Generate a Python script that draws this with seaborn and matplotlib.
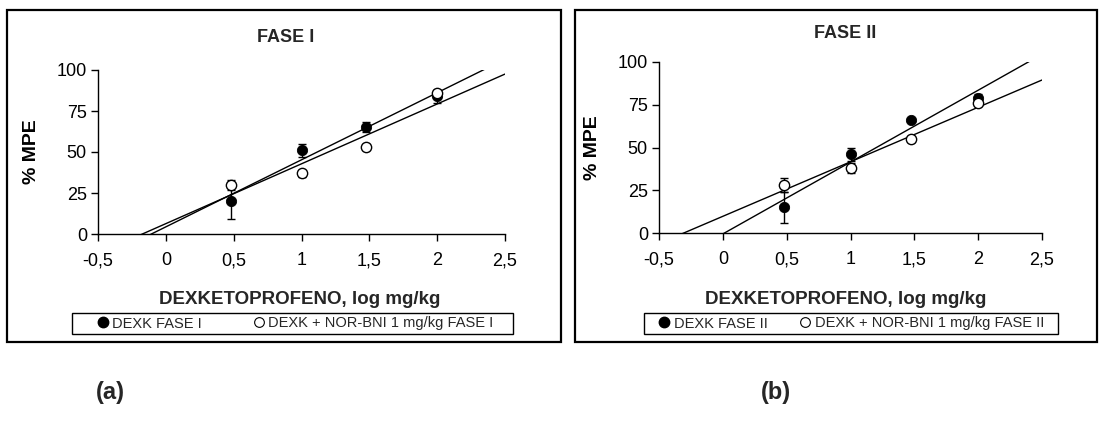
import numpy as np
import pandas as pd
import matplotlib
matplotlib.use("Agg")
import matplotlib.pyplot as plt
from matplotlib.patches import Rectangle
from matplotlib.lines import Line2D
import seaborn as sns

# ---- data ----
doses_log = [np.log10(3), np.log10(10), np.log10(30), np.log10(100)]

fase1_dexk = [20, 51, 65, 84]
fase1_dexk_err = [11, 4, 3, 4]
fase1_nor = [30, 37, 53, 86]
fase1_nor_err = [3, 2, 2, 2]

fase2_dexk = [15, 46, 66, 79]
fase2_dexk_err = [9, 4, 1, 2]
fase2_nor = [28, 38, 55, 76]
fase2_nor_err = [4, 3, 2, 2]

x_ticks = [-0.5, 0, 0.5, 1, 1.5, 2, 2.5]
x_tick_labels = ["-0,5", "0", "0,5", "1", "1,5", "2", "2,5"]
y_ticks = [0, 25, 50, 75, 100]

titles = ["FASE I", "FASE II"]
legend_labels = [["DEXK FASE I", "DEXK + NOR-BNI 1 mg/kg FASE I"],
                 ["DEXK FASE II", "DEXK + NOR-BNI 1 mg/kg FASE II"]]
xlabel = "DEXKETOPROFENO, log mg/kg"
ylabel = "% MPE"
panel_tags = ["(a)", "(b)"]

sns.set_theme(style="white")
plt.rcParams['font.family'] = ['Liberation Sans', 'DejaVu Sans']

fig = plt.figure(figsize=(11, 4.26), dpi=100)

W, H = 1100, 426
def frac(l, t, r, b):
    return [l / W, 1 - b / H, (r - l) / W, (b - t) / H]

ax_pos = [frac(98, 70, 505, 234), frac(659, 62, 1042, 233)]
box_px = [(7, 10, 561, 342), (575, 10, 1097, 342)]
leg_px = [(72, 313, 513, 334), (644, 313, 1058, 334)]
leg_center = [(296, 323.5), (852, 323.5)]
leg_colsp = [3.6, 2.3]
tag_px = [(110, 392), (776, 392)]
title_xy = [(286, 37), (845, 33)]
xlabel_xy = [(300, 299), (846, 299)]

data = [
    (fase1_dexk, fase1_dexk_err, fase1_nor, fase1_nor_err),
    (fase2_dexk, fase2_dexk_err, fase2_nor, fase2_nor_err),
]

for i in range(2):
    # outer panel frame
    l, t, r, b = box_px[i]
    fig.patches.append(Rectangle((l / W, 1 - b / H), (r - l) / W, (b - t) / H,
                                 transform=fig.transFigure, fill=False,
                                 edgecolor="black", linewidth=1.6, zorder=0))
    ax = fig.add_axes(ax_pos[i])
    ax.set_xlim(-0.5, 2.5)
    ax.set_ylim(0, 100)
    d1, e1, d2, e2 = data[i]
    df1 = pd.DataFrame({"x": doses_log, "y": d1})
    df2 = pd.DataFrame({"x": doses_log, "y": d2})
    for df in (df1, df2):
        sns.regplot(data=df, x="x", y="y", ax=ax, ci=None, truncate=False,
                    scatter=False, line_kws=dict(color="black", lw=1.0))
    ax.set_xlim(-0.5, 2.5)
    ax.set_ylim(0, 100)
    ax.errorbar(doses_log, d1, yerr=e1, fmt="none", ecolor="black",
                elinewidth=1.0, capsize=3, capthick=1.0, zorder=3, clip_on=False)
    ax.errorbar(doses_log, d2, yerr=e2, fmt="none", ecolor="black",
                elinewidth=1.0, capsize=3, capthick=1.0, zorder=3, clip_on=False)
    sns.scatterplot(x=doses_log, y=d1, ax=ax, color="black", edgecolor="black",
                    s=55, zorder=4, clip_on=False)
    sns.scatterplot(x=doses_log, y=d2, ax=ax, color="white", edgecolor="black",
                    linewidth=1.0, s=55, zorder=5, clip_on=False)
    sns.despine(ax=ax)
    ax.spines["left"].set_color("black")
    ax.spines["bottom"].set_color("black")
    ax.spines["left"].set_linewidth(1.0)
    ax.spines["bottom"].set_linewidth(1.0)
    ax.set_xticks(x_ticks)
    ax.set_xticklabels(x_tick_labels)
    ax.set_yticks(y_ticks)
    ax.tick_params(axis="both", which="major", direction="out", length=5,
                   width=1.0, color="black", labelsize=13, labelcolor="black",
                   bottom=True, left=True, pad=8)
    ax.tick_params(axis="y", pad=3)
    ax.set_xlabel("")
    ax.set_ylabel(ylabel, fontsize=14, fontweight="bold", color="black", labelpad=12)
    ax.grid(False)
    fig.text(title_xy[i][0] / W, 1 - title_xy[i][1] / H, titles[i], ha="center",
             va="center", fontsize=13, fontweight="bold")
    fig.text(xlabel_xy[i][0] / W, 1 - xlabel_xy[i][1] / H, xlabel, ha="center",
             va="center", fontsize=13.5, fontweight="bold")
    # legend frame
    ll, lt, lr, lb = leg_px[i]
    fig.patches.append(Rectangle((ll / W, 1 - lb / H), (lr - ll) / W, (lb - lt) / H,
                                 transform=fig.transFigure, fill=False,
                                 edgecolor="black", linewidth=1.0, zorder=1))
    handles = [
        Line2D([], [], marker="o", ls="none", color="black", markersize=7.5),
        Line2D([], [], marker="o", ls="none", markerfacecolor="white",
               markeredgecolor="black", markersize=7, markeredgewidth=0.8),
    ]
    leg = fig.legend(handles, legend_labels[i], ncol=2, loc="center",
                     bbox_to_anchor=(leg_center[i][0] / W, 1 - leg_center[i][1] / H),
                     frameon=False, fontsize=10.5, handlelength=0.6,
                     handletextpad=0.35, columnspacing=leg_colsp[i],
                     borderpad=0.0, borderaxespad=0.0)
    fig.text(tag_px[i][0] / W, 1 - tag_px[i][1] / H, panel_tags[i],
             ha="center", va="center", fontsize=17, fontweight="bold")

fig.savefig("out.png", dpi=100, facecolor="white")
